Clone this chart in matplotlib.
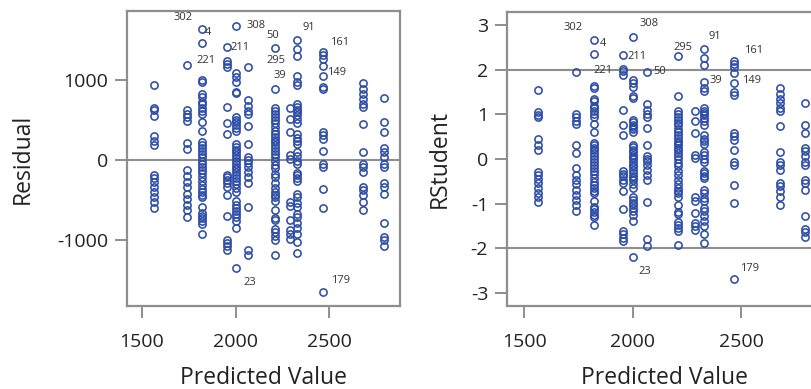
import matplotlib
matplotlib.use("Agg")
import matplotlib.pyplot as plt
import numpy as np

# Predicted-value levels (one column of observations per level)
pred_levels = [1563, 1740, 1822, 1953, 2000, 2065, 2210, 2288, 2330, 2466, 2680, 2795]

# Residuals for each level
residuals = [
    [942, 658, 629, 558, 296, 242, 192, -188, -221, -279, -333, -396, -458, -521, -596],
    [1185, 625, 580, 535, 495, 210, 140, -125, -200, -270, -340, -420, -490, -560, -625, -715],
    [1641, 1462, 1005, 975, 828, 790, 730, 700, 656, 619, 582, 478, 368, 221, 190, 153, 116, 80,
     37, -6, -43, -80, -123, -159, -208, -264, -313, -362, -398, -435, -466, -582, -662, -693,
     -729, -766, -797, -929],
    [1410, 1240, 1205, 1170, 671, 462, 325, -180, -215, -250, -290, -335, -440, -700, -1005,
     -1040, -1080, -1125],
    [1680, 1088, 1042, 981, 858, 834, 540, 503, 472, 435, 405, 368, 196, 159, 129, 98, 61, 25,
     -6, -43, -80, -116, -153, -190, -227, -264, -294, -349, -398, -515, -558, -601, -638, -674,
     -711, -766, -846, -1355],
    [1165, 754, 674, 619, 582, 423, 196, 37, 6, -31, -80, -147, -215, -282, -588, -1125, -1190],
    [1408, 885, 656, 619, 576, 540, 497, 460, 417, 368, 331, 288, 251, 221, 190, 153, 116, 80,
     37, -6, -55, -98, -172, -215, -282, -343, -398, -435, -466, -515, -625, -729, -754, -864,
     -901, -944, -993, -1185],
    [656, 515, 356, 61, 12, -530, -575, -750, -880, -930, -985],
    [1500, 1395, 1300, 1050, 975, 940, 699, 662, 631, 601, 564, 515, 460, 325, 276, 245, 208, 98,
     49, -6, -43, -159, -190, -227, -264, -423, -466, -533, -582, -674, -711, -785, -852, -926,
     -1030, -1160],
    [1358, 1310, 1260, 1180, 1050, 920, 885, 356, 313, 264, 116, -43, -80, -362, -601, -1646],
    [965, 889, 828, 766, 699, 662, 447, 98, -43, -86, -147, -331, -374, -441, -527, -625],
    [780, 472, 356, 153, 104, 37, -43, -80, -282, -331, -423, -785, -956, -999, -1073],
]

# Studentized deleted residuals for each level (same observation order)
rstudent = [
    [1.55, 1.04, 0.99, 0.93, 0.45, 0.32, 0.21, -0.30, -0.35, -0.44, -0.54, -0.65, -0.76, -0.86, -0.96],
    [1.94, 1.01, 0.93, 0.86, 0.79, 0.32, 0.13, -0.20, -0.35, -0.46, -0.57, -0.69, -0.80, -0.91, -1.02, -1.16],
    [2.67, 2.35, 1.63, 1.59, 1.35, 1.29, 1.19, 1.14, 1.07, 1.01, 0.95, 0.78, 0.60, 0.36, 0.31, 0.25,
     0.19, 0.13, 0.06, -0.01, -0.07, -0.13, -0.20, -0.26, -0.34, -0.43, -0.51, -0.59, -0.65, -0.71,
     -0.76, -0.95, -1.08, -1.13, -1.19, -1.25, -1.30, -1.47],
    [2.33, 2.01, 1.96, 1.89, 1.10, 0.75, 0.54, -0.28, -0.34, -0.39, -0.46, -0.54, -0.71, -1.13, -1.62,
     -1.69, -1.77, -1.83],
    [2.74, 1.77, 1.70, 1.60, 1.40, 1.36, 0.88, 0.82, 0.77, 0.71, 0.66, 0.60, 0.32, 0.26, 0.21, 0.16,
     0.10, 0.04, -0.01, -0.07, -0.13, -0.19, -0.25, -0.31, -0.37, -0.43, -0.48, -0.57, -0.65, -0.84,
     -0.91, -0.98, -1.04, -1.10, -1.16, -1.25, -1.38, -2.20],
    [1.94, 1.23, 1.10, 1.01, 0.95, 0.69, 0.32, 0.06, 0.01, -0.05, -0.13, -0.24, -0.35, -0.46, -0.96,
     -1.80, -1.95],
    [2.30, 1.42, 1.07, 1.01, 0.94, 0.88, 0.81, 0.75, 0.68, 0.60, 0.54, 0.47, 0.41, 0.36, 0.31, 0.25,
     0.19, 0.13, 0.06, -0.01, -0.09, -0.16, -0.28, -0.35, -0.46, -0.56, -0.65, -0.71, -0.76, -0.84,
     -1.02, -1.19, -1.23, -1.41, -1.47, -1.54, -1.62, -1.93],
    [1.07, 0.84, 0.58, 0.10, 0.02, -0.86, -0.93, -1.21, -1.43, -1.51, -1.58],
    [2.47, 2.26, 2.10, 1.72, 1.59, 1.53, 1.14, 1.08, 1.03, 0.98, 0.92, 0.84, 0.75, 0.53, 0.45, 0.40,
     0.34, 0.16, 0.08, -0.01, -0.07, -0.26, -0.31, -0.37, -0.43, -0.69, -0.76, -0.87, -0.95, -1.10,
     -1.16, -1.28, -1.39, -1.51, -1.68, -1.88],
    [2.20, 2.13, 2.05, 1.92, 1.70, 1.50, 1.44, 0.58, 0.51, 0.43, 0.19, -0.07, -0.13, -0.59, -0.98, -2.68],
    [1.59, 1.45, 1.35, 1.25, 1.14, 1.08, 0.73, 0.16, -0.07, -0.14, -0.24, -0.54, -0.61, -0.72, -0.86, -1.02],
    [1.25, 0.77, 0.58, 0.25, 0.17, 0.06, -0.07, -0.13, -0.46, -0.54, -0.69, -1.28, -1.56, -1.63, -1.75],
]

# Labelled observations: (observation id, level index, position within level)
obs_ids = ["302", "4", "308", "211", "221", "50", "295", "91", "39", "161", "149", "23", "179"]
obs_level = [2, 2, 4, 3, 1, 5, 6, 8, 8, 9, 9, 4, 9]
obs_pos = [1, 0, 0, 0, 0, 0, 0, 0, 3, 0, 4, 37, 15]

# Label placement (pixel offsets, horizontal alignment) per panel
left_offsets = [(-19, 26, "center"), (3, -4, "left"), (11, 0, "left"), (4, 0, "left"),
                (10, 5, "left"), (19, 32, "left"), (-8, -13, "left"), (5, 13, "left"),
                (-24, 1, "left"), (7, 9, "left"), (4, 4, "left"), (8, -14, "left"),
                (8, 11, "left")]
right_offsets = [(-21, 26, "center"), (6, -4, "left"), (7, 13, "left"), (5, -2, "left"),
                 (17, 2, "left"), (7, 1, "left"), (-5, 9, "left"), (4, 12, "left"),
                 (5, 2, "left"), (10, 10, "left"), (8, 3, "left"), (6, -14, "left"),
                 (6, 10, "left")]

plt.rcParams["font.family"] = ["Open Sans", "DejaVu Sans"]
plt.rcParams["axes.unicode_minus"] = False

MARK = "#2E4DA7"
FRAME = "#8E8E8E"
TEXT = "#222222"

x_all = np.concatenate([[lv] * len(r) for lv, r in zip(pred_levels, residuals)])
res_all = np.concatenate(residuals)
rst_all = np.concatenate(rstudent)

fig = plt.figure(figsize=(8.12, 3.89), dpi=100)
ax1 = fig.add_axes([127 / 812, 83 / 389, 273 / 812, 295 / 389])
ax2 = fig.add_axes([507 / 812, 83 / 389, 316 / 812, 294.5 / 389])


def style_axes(ax):
    for sp in ax.spines.values():
        sp.set_color(FRAME)
        sp.set_linewidth(1.6)
    ax.tick_params(axis="both", direction="out", length=8.5, width=1.4, color=FRAME,
                   labelsize=14, labelcolor=TEXT, pad=5)
    ax.tick_params(axis="x", pad=11)
    ax.set_xlim(1420, 2878)
    ax.set_xticks([1500, 2000, 2500])
    ax.set_xlabel("Predicted Value", fontsize=16.5, color=TEXT, labelpad=11)


def draw_points(ax, yvals):
    ax.plot(x_all, yvals, linestyle="none", marker="o", markersize=5.2,
            markerfacecolor="none", markeredgecolor=MARK, markeredgewidth=1.15, zorder=3)


def draw_labels(ax, ycols, offsets):
    for oid, lv, pos, (dx, dy, ha) in zip(obs_ids, obs_level, obs_pos, offsets):
        ax.annotate(oid, (pred_levels[lv], ycols[lv][pos]), xytext=(dx, dy),
                    textcoords="offset pixels", ha=ha, va="center",
                    fontsize=8, color="#333333", zorder=4)


# Residual panel
style_axes(ax1)
ax1.axhline(0, color=FRAME, linewidth=1.5, zorder=1)
draw_points(ax1, res_all)
draw_labels(ax1, residuals, left_offsets)
ax1.set_ylim(-1825, 1866)
ax1.set_yticks([-1000, 0, 1000])
ax1.set_ylabel("Residual", fontsize=16.5, color=TEXT, labelpad=16)

# RStudent panel
style_axes(ax2)
for ref in (-2, 2):
    ax2.axhline(ref, color=FRAME, linewidth=1.5, zorder=1)
draw_points(ax2, rst_all)
draw_labels(ax2, rstudent, right_offsets)
ax2.set_ylim(-3.29, 3.3)
ax2.set_yticks([-3, -2, -1, 0, 1, 2, 3])
ax2.set_ylabel("RStudent", fontsize=16.5, color=TEXT, labelpad=14)

fig.savefig("out.png", dpi=100)
